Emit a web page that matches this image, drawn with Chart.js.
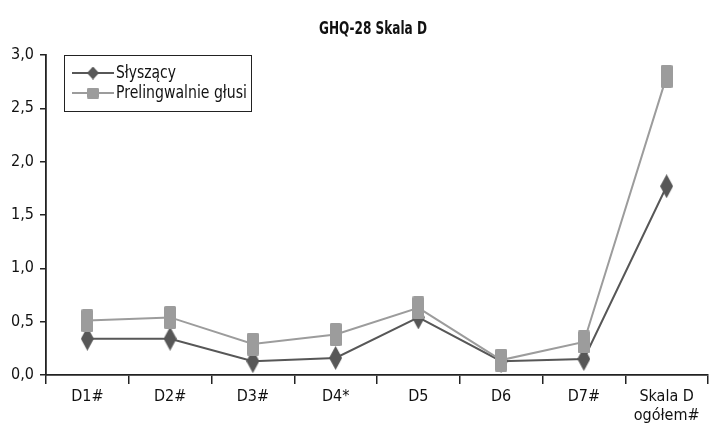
<!DOCTYPE html>
<html>
<head>
<meta charset="utf-8">
<script src="https://cdn.jsdelivr.net/npm/chart.js@4"></script>
<style>
  html, body { margin: 0; padding: 0; background: #fff; }
  #wrap { width: 714px; height: 428px; }
</style>
</head>
<body>
<div id="wrap"><canvas id="c" width="714" height="428"></canvas></div>
<script>
const categories = ['D1#', 'D2#', 'D3#', 'D4*', 'D5', 'D6', 'D7#', ['Skala D', 'ogółem#']];
const slyszacy = [0.34, 0.34, 0.13, 0.16, 0.54, 0.13, 0.15, 1.77];
const prelingwalnie = [0.51, 0.54, 0.29, 0.38, 0.63, 0.14, 0.31, 2.80];
const seriesNames = ['Słyszący', 'Prelingwalnie głusi'];
const yTicks = [0, 0.5, 1.0, 1.5, 2.0, 2.5, 3.0];
const chartTitle = 'GHQ-28 Skala D';

const FONT = '"DejaVu Sans Condensed", "Liberation Sans Narrow", sans-serif';
const DARK = '#575757';
const LIGHT = '#9c9c9c';

function diamondMarker(w, h, color) {
  const c = document.createElement('canvas');
  c.width = w; c.height = h;
  const g = c.getContext('2d');
  g.fillStyle = color;
  g.beginPath();
  g.moveTo(w / 2, 0); g.lineTo(w, h / 2); g.lineTo(w / 2, h); g.lineTo(0, h / 2);
  g.closePath(); g.fill();
  return c;
}
function squareMarker(w, h, color) {
  const c = document.createElement('canvas');
  c.width = w; c.height = h;
  const g = c.getContext('2d');
  g.fillStyle = color;
  g.beginPath();
  g.roundRect(0, 0, w, h, 1.5);
  g.fill();
  return c;
}
const diamond = diamondMarker(13, 24, DARK);
const square = squareMarker(12, 23, LIGHT);
const diamondSmall = diamondMarker(12, 13, DARK);
const squareSmall = squareMarker(12, 11, LIGHT);

// draws text squeezed horizontally to a given width
function narrowText(g, text, x, y, width, align) {
  const w = g.measureText(text).width;
  const k = Math.min(1, width / w);
  g.save();
  g.translate(x, y);
  g.scale(k, 1);
  g.textAlign = align;
  g.fillText(text, 0, 0);
  g.restore();
}

const decorations = {
  id: 'decorations',
  afterDraw(chart) {
    const g = chart.ctx;
    g.save();
    g.fillStyle = '#111';
    g.textBaseline = 'middle';
    g.font = 'bold 17px ' + FONT;
    narrowText(g, chartTitle, 373, 30, 108, 'center');
    // legend box
    const bx = 64, by = 55, bw = 187, bh = 56;
    g.fillStyle = '#fff';
    g.fillRect(bx, by, bw, bh);
    g.strokeStyle = '#222';
    g.lineWidth = 1;
    g.strokeRect(bx + 0.5, by + 0.5, bw, bh);
    const rows = [
      { y: 73, color: DARK, mark: diamondSmall, w: 60 },
      { y: 93, color: LIGHT, mark: squareSmall, w: 131 }
    ];
    g.font = '17px ' + FONT;
    rows.forEach((r, i) => {
      g.strokeStyle = r.color;
      g.lineWidth = 2;
      g.beginPath(); g.moveTo(72, r.y); g.lineTo(114, r.y); g.stroke();
      g.drawImage(r.mark, 93 - r.mark.width / 2, r.y - r.mark.height / 2);
      g.fillStyle = '#111';
      narrowText(g, seriesNames[i], 116, r.y + 1, r.w, 'left');
    });
    g.restore();
  }
};

new Chart(document.getElementById('c'), {
  type: 'line',
  data: {
    labels: categories,
    datasets: [
      {
        label: seriesNames[0], data: slyszacy, order: 1,
        borderColor: DARK, borderWidth: 2, pointStyle: diamond,
        tension: 0, fill: false
      },
      {
        label: seriesNames[1], data: prelingwalnie, order: 0,
        borderColor: LIGHT, borderWidth: 2, pointStyle: square,
        tension: 0, fill: false
      }
    ]
  },
  options: {
    responsive: false,
    animation: false,
    devicePixelRatio: 1,
    layout: { padding: { top: 55, left: 0, right: 2, bottom: 0 } },
    plugins: { legend: { display: false }, title: { display: false }, tooltip: { enabled: false } },
    scales: {
      x: {
        offset: true,
        grid: { offset: true, drawOnChartArea: false, tickLength: 9, color: '#222', lineWidth: 1.5 },
        border: { color: '#222', width: 1.8 },
        ticks: { color: '#111', font: { family: FONT, size: 16 }, padding: 3, maxRotation: 0, autoSkip: false },
        afterFit(s) { s.height = 53; }
      },
      y: {
        min: 0, max: 3,
        afterBuildTicks(s) { s.ticks = yTicks.map(v => ({ value: v })); },
        grid: { drawOnChartArea: false, tickLength: 6, color: '#222', lineWidth: 1.5 },
        border: { color: '#222', width: 1.8 },
        ticks: {
          color: '#111', font: { family: FONT, size: 16 }, padding: 6,
          callback: v => v.toFixed(1).replace('.', ',')
        },
        afterFit(s) { s.width = 46; }
      }
    }
  },
  plugins: [decorations]
});
</script>
</body>
</html>
